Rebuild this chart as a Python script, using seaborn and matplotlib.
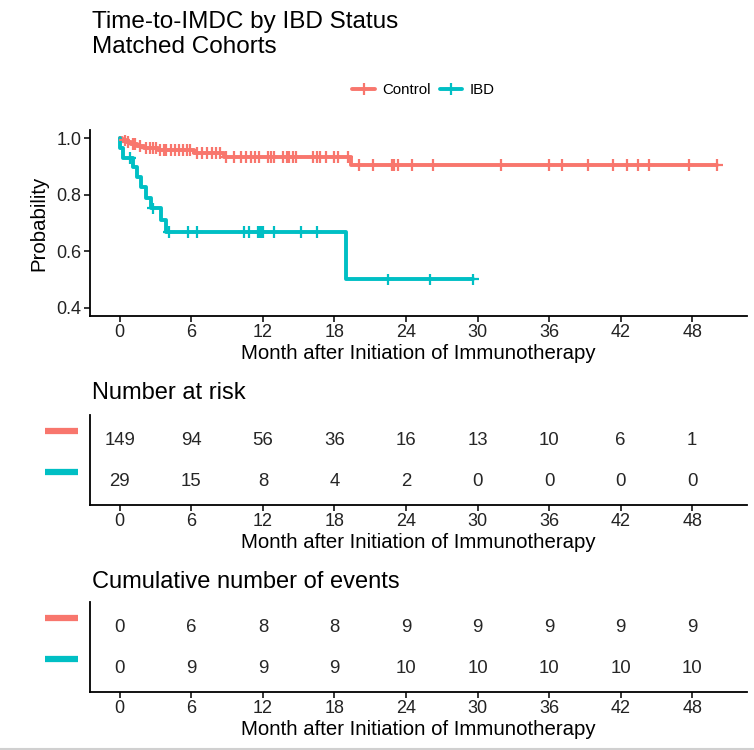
import numpy as np
import pandas as pd
import matplotlib
matplotlib.use("Agg")
import matplotlib.pyplot as plt
from matplotlib.lines import Line2D
import seaborn as sns

# Kaplan-Meier steps (months, survival)
ctrl_event_times = [0.2, 0.5, 0.9, 1.4, 2.0, 3.2, 6.2, 8.7, 19.4]
ctrl_event_surv = [0.993, 0.987, 0.980, 0.973, 0.966, 0.959, 0.948, 0.935, 0.906]
ctrl_censor_times = [0.4, 0.7, 1.1, 1.3, 1.7, 2.2, 2.5, 2.8, 3.0, 3.4, 3.7, 3.9, 4.3,
                     4.6, 5.0, 5.3, 5.6, 5.9, 6.5, 6.9, 7.3, 7.7, 8.1, 8.4, 8.9, 9.6,
                     10.2, 10.6, 11.0, 11.3, 11.7, 12.4, 12.7, 12.9, 13.7, 14.0, 14.2,
                     14.5, 14.8, 16.2, 16.5, 16.8, 17.3, 18.0, 18.3, 19.1, 20.1, 21.2,
                     22.8, 23.0, 23.3, 24.5, 26.3, 32.0, 36.0, 37.1, 39.3, 41.4, 42.5,
                     43.5, 44.4, 47.7, 50.1]

ibd_event_times = [0.05, 0.25, 1.1, 1.45, 1.8, 2.2, 2.65, 3.45, 3.9, 19.0]
ibd_event_surv = [0.966, 0.931, 0.897, 0.862, 0.828, 0.790, 0.752, 0.712, 0.667, 0.500]
ibd_censor_times = [0.85, 2.8, 4.1, 5.7, 6.5, 10.4, 10.8, 11.6, 11.7, 11.8, 11.9, 12.0,
                    12.9, 15.2, 16.5, 22.5, 26.0, 29.6]

groups = ["Control", "IBD"]
colors = {"Control": "#F8766D", "IBD": "#00BFC4"}

# risk table
table_times = [0, 6, 12, 18, 24, 30, 36, 42, 48]
ctrl_at_risk = [149, 94, 56, 36, 16, 13, 10, 6, 1]
ibd_at_risk = [29, 15, 8, 4, 2, 0, 0, 0, 0]
ctrl_cum_events = [0, 6, 8, 8, 9, 9, 9, 9, 9]
ibd_cum_events = [0, 9, 9, 9, 10, 10, 10, 10, 10]

xlabel = "Month after Initiation of Immunotherapy"


def km_frames(name, ev_t, ev_s, cens_t):
    t = np.array([0.0] + list(ev_t) + [max(cens_t)])
    s = np.array([1.0] + list(ev_s) + [ev_s[-1]])
    curve = pd.DataFrame({"time": t, "surv": s, "group": name})
    ct = np.array(cens_t)
    idx = np.searchsorted(t, ct, side="right") - 1
    marks = pd.DataFrame({"time": ct, "surv": s[idx], "group": name})
    return curve, marks


c1, m1 = km_frames("Control", ctrl_event_times, ctrl_event_surv, ctrl_censor_times)
c2, m2 = km_frames("IBD", ibd_event_times, ibd_event_surv, ibd_censor_times)
curves = pd.concat([c1, c2], ignore_index=True)
marks = pd.concat([m1, m2], ignore_index=True)

sns.set_style("ticks")
plt.rcParams["font.family"] = ["Liberation Sans", "DejaVu Sans"]
plt.rcParams["axes.edgecolor"] = "black"
plt.rcParams["axes.labelcolor"] = "black"
plt.rcParams["text.color"] = "black"
plt.rcParams["xtick.color"] = "black"
plt.rcParams["ytick.color"] = "black"

fig = plt.figure(figsize=(7.54, 7.5), dpi=100)
W, H = 754.0, 750.0
left, width = 90 / W, 657 / W
ax1 = fig.add_axes([left, 1 - 316 / H, width, 186 / H])
ax2 = fig.add_axes([left, 1 - 505 / H, width, 90 / H])
ax3 = fig.add_axes([left, 1 - 692 / H, width, 90 / H])

xlim = (-2.5, 52.6)
tick_col = "#222222"

# survival curves
sns.lineplot(data=curves, x="time", y="surv", hue="group", palette=colors,
             hue_order=groups, drawstyle="steps-post", estimator=None, sort=False,
             linewidth=2.8, legend=False, ax=ax1)
sns.scatterplot(data=marks, x="time", y="surv", hue="group", palette=colors,
                hue_order=groups, marker="+", s=70, linewidth=1.6, legend=False,
                ax=ax1, zorder=3)
ax1.set_xlim(*xlim)
ax1.set_ylim(0.37, 1.03)
ax1.set_xticks(table_times)
ax1.set_yticks([0.4, 0.6, 0.8, 1.0])
ax1.set_yticklabels(["0.4", "0.6", "0.8", "1.0"])
ax1.set_xlabel(xlabel, fontsize=14.7, labelpad=2)
ax1.set_ylabel("Probability", fontsize=14.7, labelpad=6)

handles = [Line2D([], [], color=colors[g], lw=2.8, marker="+", markersize=9,
                  markeredgewidth=1.6) for g in groups]
fig.legend(handles, groups, loc="center", bbox_to_anchor=(0.562, 1 - 90 / H),
           ncol=2, frameon=False, fontsize=10.8, handlelength=1.5,
           handletextpad=0.5, columnspacing=0.6)

fig.text(92 / W, 1 - 28 / H, "Time-to-IMDC by IBD Status", fontsize=17.5, va="baseline")
fig.text(92 / W, 1 - 53 / H, "Matched Cohorts", fontsize=17.5, va="baseline")


def table(ax, ctrl_vals, ibd_vals, title, title_y):
    for t, a, b in zip(table_times, ctrl_vals, ibd_vals):
        ax.text(t, 2, str(a), ha="center", va="center", fontsize=13.4, color="#262626")
        ax.text(t, 1, str(b), ha="center", va="center", fontsize=13.4, color="#262626")
    ax.set_xlim(*xlim)
    ax.set_ylim(0.42, 2.62)
    ax.set_xticks(table_times)
    ax.set_yticks([])
    ax.set_xlabel(xlabel, fontsize=14.7, labelpad=2)
    for row, g in [(2, "Control"), (1, "IBD")]:
        ax.plot([-0.0685, -0.018], [row + 0.22, row + 0.22], color=colors[g], lw=4.5,
                transform=ax.get_yaxis_transform(), clip_on=False,
                solid_capstyle="butt")
    fig.text(92 / W, 1 - title_y / H, title, fontsize=17, va="center")


table(ax2, ctrl_at_risk, ibd_at_risk, "Number at risk", 393)
table(ax3, ctrl_cum_events, ibd_cum_events, "Cumulative number of events", 582)

for ax in (ax1, ax2, ax3):
    sns.despine(ax=ax)
    for sp in ("left", "bottom"):
        ax.spines[sp].set_linewidth(1.3)
    ax.tick_params(axis="both", length=4, width=1.1, labelsize=13, pad=2,
                   labelcolor=tick_col)

fig.add_artist(Line2D([0, 1], [1.5 / H, 1.5 / H], color="#d0d0d0", lw=1.5))

fig.savefig("out.png", dpi=100)
